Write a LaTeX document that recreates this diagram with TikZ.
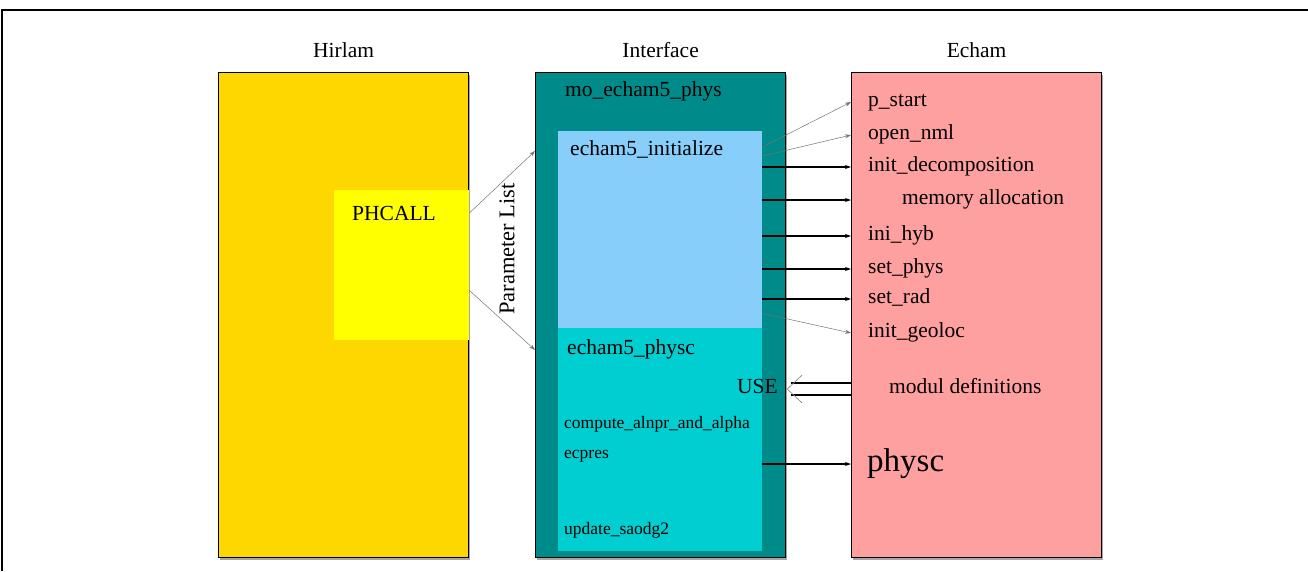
\documentclass[tikz,border=0pt]{standalone}
\usepackage{fontspec}
\setmainfont{Liberation Serif}
\usetikzlibrary{arrows.meta,shadows}
\definecolor{hirlamgold}{HTML}{FFD700}
\definecolor{phyellow}{HTML}{FFFF00}
\definecolor{ifteal}{HTML}{008B8B}
\definecolor{initblue}{HTML}{87CEFA}
\definecolor{physcyan}{HTML}{00CED1}
\definecolor{echampink}{HTML}{FFA0A0}

\begin{document}
\begin{tikzpicture}[x=1pt,y=-1pt,
    box/.style={draw,line width=1.2pt,anchor=north west,inner sep=0pt,
      minimum width=250pt,minimum height=485pt,
      drop shadow={shadow xshift=1pt,shadow yshift=-2pt,fill=black,opacity=0.35}},
    inner/.style={anchor=north west,inner sep=0pt,minimum width=204pt},
    lbl/.style={anchor=west,inner sep=0pt,text height=14pt,text depth=5pt,
      font=\fontsize{21.5}{25}\selectfont},
    small/.style={lbl,font=\fontsize{17.5}{21}\selectfont},
    hdr/.style={inner sep=0pt,font=\fontsize{21.5}{25}\selectfont},
    call/.style={-{Stealth[length=6pt,width=4pt]},line width=1.4pt},
    faint/.style={-{Stealth[length=6pt,width=4pt]},line width=0.5pt,black!55}]

    \useasboundingbox (0,0) rectangle (1308,571);
    \draw[line width=2pt] (1308,10) -- (2,10) -- (2,571);

    \node[box,fill=hirlamgold] (hirlam) at (218,72) {};
    \node[box,fill=ifteal] (interface) at (535,72) {};
    \node[box,fill=echampink] (echam) at (851,72) {};

    \node[hdr] at (hirlam.north |- 0,50) {Hirlam};
    \node[hdr] at (interface.north |- 0,50) {Interface};
    \node[hdr] at (echam.north |- 0,50) {Echam};

    \node[anchor=north west,inner sep=0pt,fill=phyellow,minimum width=135pt,minimum height=150pt] (phcall) at (334,190) {};
    \node[lbl] (phcalllbl) at (352,216) {PHCALL};

    \node[inner,fill=initblue,minimum height=197pt] (init) at (558,131) {};
    \node[inner,fill=physcyan,minimum height=223pt] (physc) at (558,328) {};

    \node[lbl] (molbl) at (565,92) {mo\_echam5\_phys};
    \node[lbl] (initlbl) at (570,151) {echam5\_initialize};
    \node[lbl] (physclbl) at (567,350) {echam5\_physc};
    \node[lbl,anchor=east] (uselbl) at (778,389) {USE};
    \node[small] (alnpr) at (564,424) {compute\_alnpr\_and\_alpha};
    \node[small] (ecpres) at (564,454) {ecpres};
    \node[small] (saodg) at (564,530) {update\_saodg2};

    \node[hdr,rotate=90,font=\fontsize{22.5}{26}\selectfont] (parlist) at (507,249) {Parameter List};

    \node[lbl] (pstart) at (868,102) {p\_start};
    \node[lbl] (opennml) at (868,135) {open\_nml};
    \node[lbl] (idecomp) at (868,167) {init\_decomposition};
    \node[lbl] (memalloc) at (902,200) {memory allocation};
    \node[lbl] (inihyb) at (868,236) {ini\_hyb};
    \node[lbl] (setphys) at (868,269) {set\_phys};
    \node[lbl] (setrad) at (868,299) {set\_rad};
    \node[lbl] (igeoloc) at (868,333) {init\_geoloc};
    \node[lbl] (moduldef) at (889,389) {modul definitions};
    \node[lbl,font=\fontsize{33}{38}\selectfont,text height=22pt,text depth=7pt] (physcall) at (867,464) {physc};

    \draw[faint] ([yshift=-23pt]phcall.north east) -- (interface.west |- initlbl);
    \draw[faint] ([yshift=50pt]phcall.south east) -- (interface.west |- physclbl);

    \draw[faint] ([yshift=-16pt]init.north east) -- (echam.west |- pstart);
    \draw[faint] ([yshift=-25pt]init.north east) -- (echam.west |- opennml);
    \draw[call] (init.east |- idecomp) -- (echam.west |- idecomp);
    \draw[call] (init.east |- memalloc) -- (echam.west |- memalloc);
    \draw[call] (init.east |- inihyb) -- (echam.west |- inihyb);
    \draw[call] (init.east |- setphys) -- (echam.west |- setphys);
    \draw[call] (init.east |- setrad) -- (echam.west |- setrad);
    \draw[faint] ([yshift=15pt]init.south east) -- (echam.west |- igeoloc);

    \coordinate (usetip) at ([xshift=1pt]interface.east |- uselbl);
    \draw[line width=1.4pt] (echam.west |- uselbl) ++(0,-6) -- ([shift={(4,-6)}]usetip);
    \draw[line width=1.4pt] (echam.west |- uselbl) ++(0,6) -- ([shift={(4,6)}]usetip);
    \draw[black!50,line width=0.6pt] ([shift={(15,-14)}]usetip) -- (usetip) -- ([shift={(15,14)}]usetip);

    \draw[call] (physc.east |- physcall) -- (echam.west |- physcall);
\end{tikzpicture}
\end{document}
